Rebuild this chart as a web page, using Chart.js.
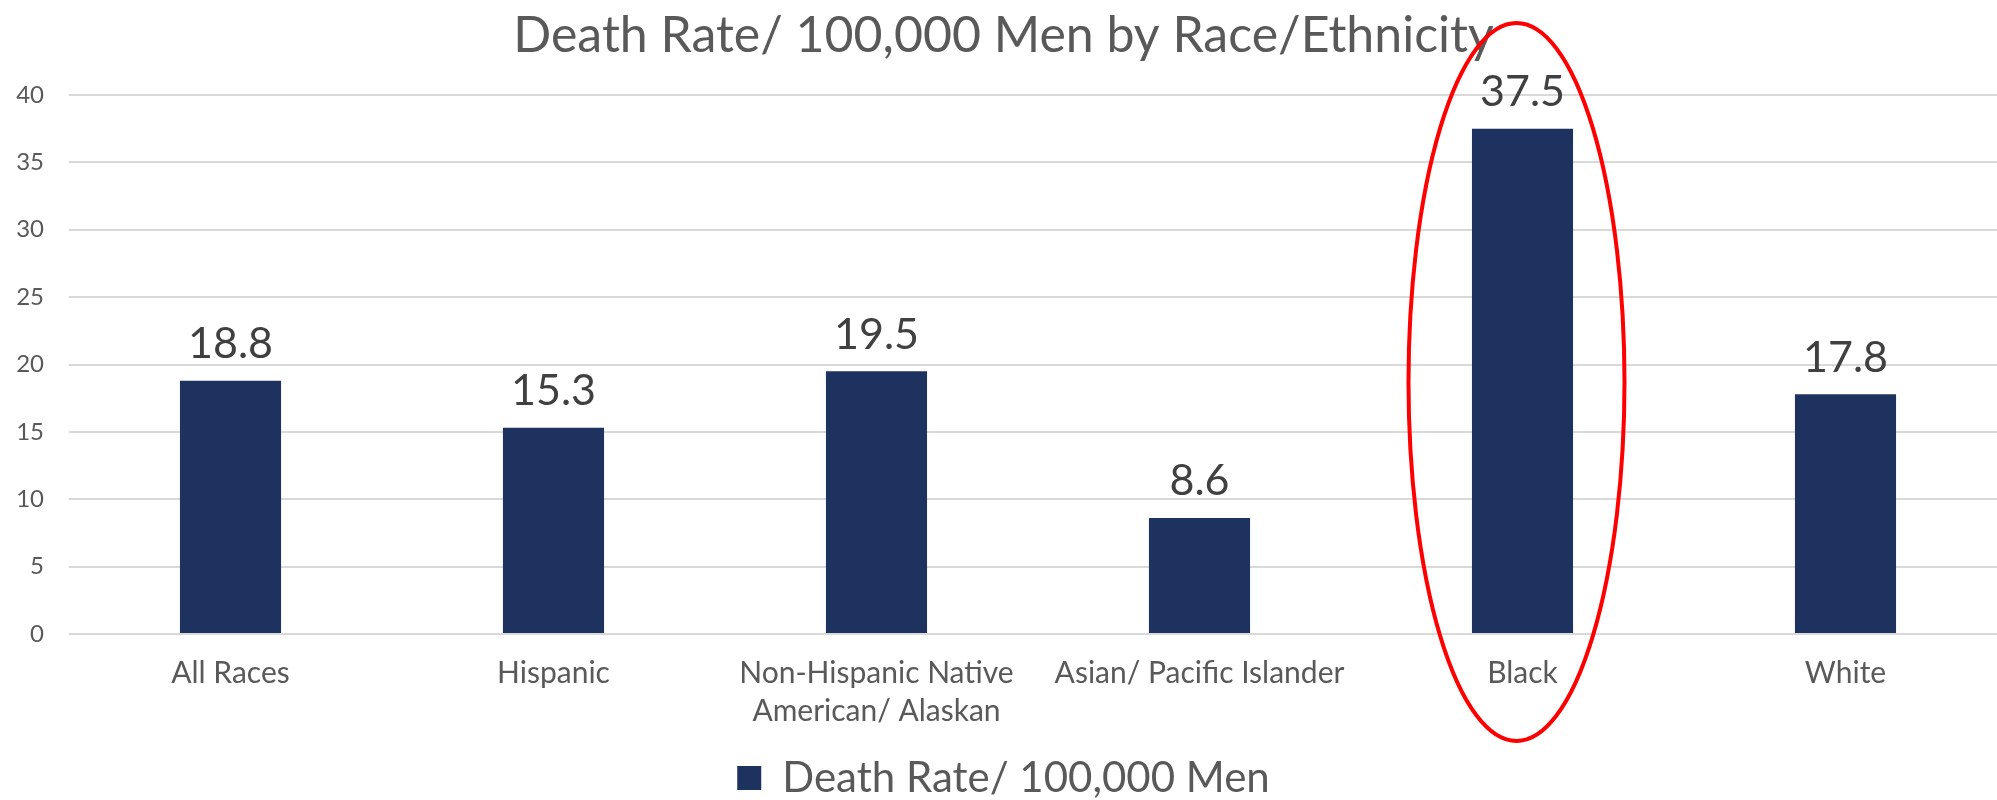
<!DOCTYPE html>
<html>
<head>
<meta charset="utf-8">
<script src="https://cdn.jsdelivr.net/npm/chart.js@4/dist/chart.umd.min.js"></script>
<style>
  html, body { margin: 0; padding: 0; background: #fff; overflow: hidden; }
  #wrap { width: 2007px; height: 800px; position: relative; }
</style>
</head>
<body>
<div id="wrap"><canvas id="deathChart"></canvas></div>
<script>
// chart data
var categories = ['All Races', 'Hispanic', ['Non-Hispanic Native', 'American/ Alaskan'], 'Asian/ Pacific Islander', 'Black', 'White'];
var deathRates = [18.8, 15.3, 19.5, 8.6, 37.5, 17.8];
var seriesName = 'Death Rate/ 100,000 Men';
var yTicks = [0, 5, 10, 15, 20, 25, 30, 35, 40];
var highlightIndex = 4; // "Black" gets the red ring

var navy = '#1d325e';
var grey = '#595959';

// value labels above the bars
var valueLabels = {
	id: 'valueLabels',
	afterDatasetsDraw: function(chart){
		var ctx = chart.ctx;
		var meta = chart.getDatasetMeta(0);
		ctx.save();
		ctx.fillStyle = '#404040';
		ctx.font = '43px Lato';
		ctx.textAlign = 'center';
		ctx.textBaseline = 'bottom';
		meta.data.forEach(function(bar, i){
			ctx.fillText(deathRates[i].toFixed(1), bar.x, bar.y - 15);
		});
		ctx.restore();
	}
};

// red ellipse around the highlighted bar
var ring = {
	id: 'ring',
	afterDraw: function(chart){
		var ctx = chart.ctx;
		var x = chart.scales.x;
		var y = chart.scales.y;
		var cx = x.getPixelForValue(highlightIndex) - 6;
		var cy = y.getPixelForValue(18.7);
		ctx.save();
		ctx.strokeStyle = '#ff0000';
		ctx.lineWidth = 4;
		ctx.beginPath();
		ctx.ellipse(cx, cy, 108, 359, 0, 0, Math.PI * 2);
		ctx.stroke();
		ctx.restore();
	}
};

var ctx = document.getElementById('deathChart').getContext('2d');
var deathChart = new Chart(ctx, {
	type: 'bar',
	data: {
		labels: categories,
		datasets: [{
			label: seriesName,
			data: deathRates,
			backgroundColor: navy,
			borderWidth: 0,
			barPercentage: 0.313,
			categoryPercentage: 1
		}]
	},
	options: {
		responsive: true,
		maintainAspectRatio: false,
		animation: false,
		layout: {
			padding: { left: 0, right: 0, top: 0, bottom: -9 }
		},
		plugins: {
			title: {
				display: true,
				text: 'Death Rate/ 100,000 Men by Race/Ethnicity',
				color: grey,
				font: { family: 'Lato', size: 50, weight: 'normal' },
				padding: { top: 6, bottom: 29 }
			},
			legend: {
				display: true,
				position: 'bottom',
				labels: {
					color: grey,
					font: { family: 'Lato', size: 42 },
					boxWidth: 24,
					boxHeight: 24,
					padding: 0
				}
			},
			tooltip: { enabled: false }
		},
		scales: {
			x: {
				afterFit: function(axis){
					axis.height = 123;
				},
				grid: { display: false, drawTicks: false },
				border: { display: false },
				ticks: {
					color: grey,
					font: { family: 'Lato', size: 30, lineHeight: 1.25 },
					padding: 21,
					maxRotation: 0,
					autoSkip: false
				}
			},
			y: {
				min: 0,
				max: 40,
				afterBuildTicks: function(axis){
					axis.ticks = yTicks.map(function(v){ return { value: v }; });
				},
				afterFit: function(axis){
					axis.width = 69;
				},
				grid: { color: '#d9d9d9', lineWidth: 2, drawTicks: false },
				border: { display: false },
				ticks: {
					color: grey,
					font: { family: 'Lato', size: 24 },
					padding: 25
				}
			}
		}
	},
	plugins: [valueLabels, ring]
});
</script>
</body>
</html>
